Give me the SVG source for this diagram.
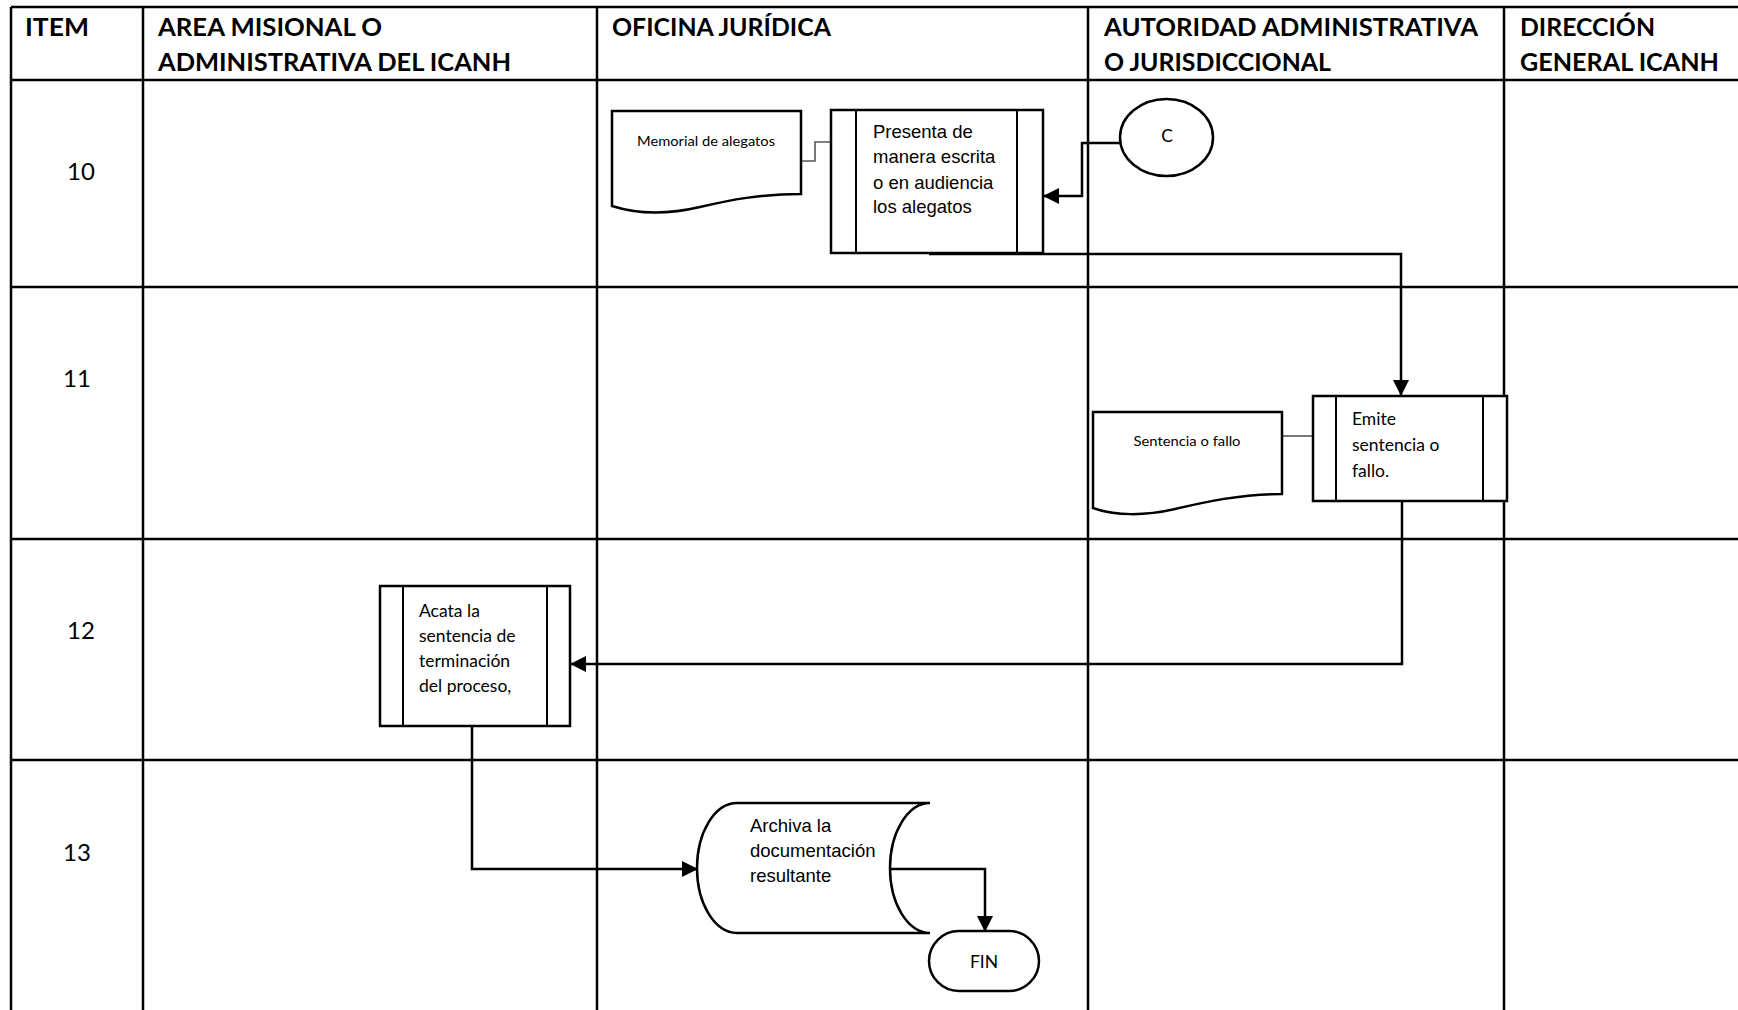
<svg xmlns="http://www.w3.org/2000/svg" width="1738" height="1010" viewBox="0 0 1738 1010">
<defs>
<style>
.grid{stroke:#000;stroke-width:2.5;fill:none}
.shape{fill:#fff;stroke:#000;stroke-width:2.5}
.bar{stroke:#000;stroke-width:2;fill:none}
.conn{fill:none;stroke:#000;stroke-width:2.5}
.thin{fill:none;stroke:#555;stroke-width:1.6}
.hdr{font-family:Lato,"Liberation Sans",sans-serif;font-weight:bold;font-size:25px;fill:#000}
.num{font-family:Lato,"Liberation Sans",sans-serif;font-size:24px;fill:#000}
.cal{font-family:Lato,"Liberation Sans",sans-serif;font-size:17.5px;fill:#000}
.small{font-family:Lato,"Liberation Sans",sans-serif;font-size:14px;fill:#000}
.ari{font-family:"Liberation Sans",Arial,sans-serif;font-size:18.5px;fill:#000}
</style>
<marker id="arr" markerUnits="userSpaceOnUse" markerWidth="16" markerHeight="16" refX="15" refY="8" orient="auto">
<path d="M0,0 L16,8 L0,16 Z" fill="#000"/>
</marker>
</defs>
<rect x="0" y="0" width="1738" height="1010" fill="#fff"/>
<g id="table">
<path class="grid" d="M11,7 H1738 M11,80 H1738 M11,287 H1738 M11,539 H1738 M11,760 H1738 M11,7 V1010 M143,7 V1010 M597,7 V1010 M1088,7 V1010 M1504,7 V1010"/>
<text class="hdr" x="25" y="36" textLength="64" lengthAdjust="spacingAndGlyphs">ITEM</text>
<text class="hdr" x="158" y="36" textLength="224" lengthAdjust="spacingAndGlyphs">AREA MISIONAL O</text>
<text class="hdr" x="158" y="71" textLength="353" lengthAdjust="spacingAndGlyphs">ADMINISTRATIVA DEL ICANH</text>
<text class="hdr" x="612" y="36" textLength="219" lengthAdjust="spacingAndGlyphs">OFICINA JURÍDICA</text>
<text class="hdr" x="1104" y="36" textLength="374" lengthAdjust="spacingAndGlyphs">AUTORIDAD ADMINISTRATIVA</text>
<text class="hdr" x="1104" y="71" textLength="227" lengthAdjust="spacingAndGlyphs">O JURISDICCIONAL</text>
<text class="hdr" x="1520" y="36" textLength="135" lengthAdjust="spacingAndGlyphs">DIRECCIÓN</text>
<text class="hdr" x="1520" y="71" textLength="199" lengthAdjust="spacingAndGlyphs">GENERAL ICANH</text>
<text class="num" x="67" y="180">10</text>
<text class="num" x="63" y="387">11</text>
<text class="num" x="67" y="639">12</text>
<text class="num" x="63" y="861">13</text>
</g>
<g id="connectors">
<path class="thin" d="M801,161 H815 V142 H831"/>
<path class="thin" d="M1282,436 H1313"/>
<path class="conn" d="M1120,143 H1082 V196 H1044" marker-end="url(#arr)"/>
<path class="conn" d="M929,254 H1401 V395" stroke="#333" marker-end="url(#arr)"/>
<path class="conn" d="M1402,501 V664 H571" marker-end="url(#arr)"/>
<path class="conn" d="M472,726 V869 H697" marker-end="url(#arr)"/>
<path class="conn" d="M890,869 H985 V931" marker-end="url(#arr)"/>
</g>
<g id="n-memorial">
<path class="shape" d="M612,111 H801 V194 C760,194 730,200 700,207 C670,214 640,215 612,206 Z"/>
<text class="small" x="706" y="146" text-anchor="middle" textLength="138" lengthAdjust="spacingAndGlyphs">Memorial de alegatos</text>
</g>
<g id="n-presenta">
<rect class="shape" x="831" y="110" width="212" height="143"/>
<path class="bar" d="M856,110 V253 M1017,110 V253"/>
<text class="ari" x="873" y="138">Presenta de</text>
<text class="ari" x="873" y="163">manera escrita</text>
<text class="ari" x="873" y="189">o en audiencia</text>
<text class="ari" x="873" y="213">los alegatos</text>
</g>
<g id="n-c">
<ellipse class="shape" cx="1166.5" cy="137.5" rx="46.5" ry="38.5"/>
<text class="cal" x="1167" y="142" font-size="20" text-anchor="middle">C</text>
</g>
<g id="n-sentencia">
<path class="shape" d="M1093,412 H1282 V494 C1240,494 1205,502 1175,509 C1145,516 1115,516 1093,508 Z"/>
<text class="small" x="1187" y="446" text-anchor="middle" textLength="107" lengthAdjust="spacingAndGlyphs">Sentencia o fallo</text>
</g>
<g id="n-emite">
<rect class="shape" x="1313" y="396" width="194" height="105"/>
<path class="bar" d="M1336,396 V501 M1483,396 V501"/>
<text class="cal" x="1352" y="425">Emite</text>
<text class="cal" x="1352" y="451">sentencia o</text>
<text class="cal" x="1352" y="477">fallo.</text>
</g>
<g id="n-acata">
<rect class="shape" x="380" y="586" width="190" height="140"/>
<path class="bar" d="M403,586 V726 M547,586 V726"/>
<text class="cal" x="419" y="617">Acata la</text>
<text class="cal" x="419" y="642">sentencia de</text>
<text class="cal" x="419" y="667">terminación</text>
<text class="cal" x="419" y="692">del proceso,</text>
</g>
<g id="n-archiva">
<path class="shape" d="M737,803 H930 A40,65 0 0 0 930,933 H737 A40,65 0 0 1 737,803 Z"/>
<text class="ari" x="750" y="832">Archiva la</text>
<text class="ari" x="750" y="857">documentación</text>
<text class="ari" x="750" y="882">resultante</text>
</g>
<g id="n-fin">
<rect class="shape" x="929" y="931" width="110" height="60" rx="30" ry="30"/>
<text class="cal" x="984" y="968" text-anchor="middle">FIN</text>
</g>
</svg>
